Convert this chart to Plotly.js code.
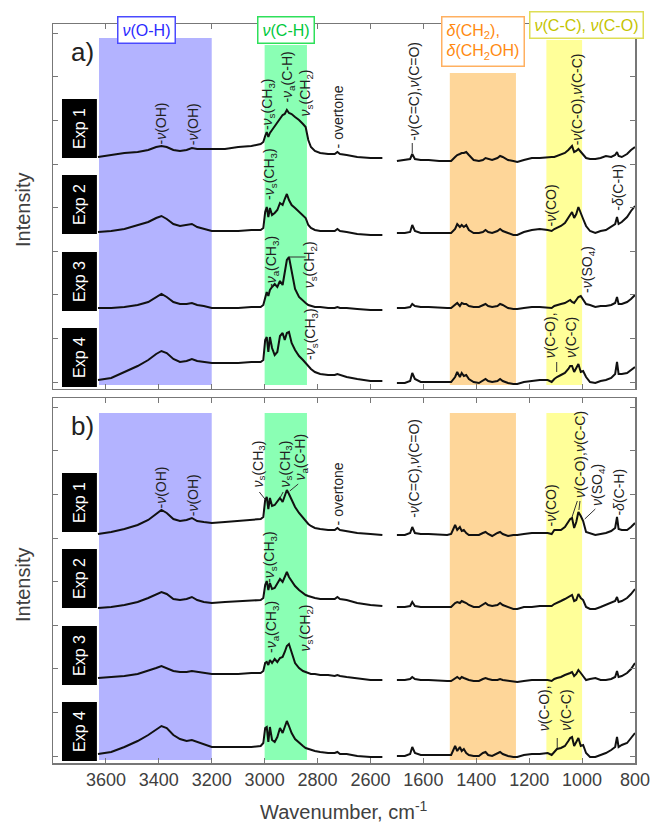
<!DOCTYPE html>
<html>
<head>
<meta charset="utf-8">
<script src="https://cdn.plot.ly/plotly-3.0.1.min.js"></script>
<style>html,body{margin:0;padding:0;background:#fff;}#chart{width:653px;height:824px;}</style>
</head>
<body>
<div id="chart"></div>
<script>
// ---------------- DATA ----------------
// Wavenumber grids (cm-1) for the two spectral windows
const wnHigh = [3630,3580,3530,3480,3440,3410,3390,3370,3345,3320,3295,3275,3255,3230,3200,3150,3100,3050,3015,3005,2998,2992,2986,2980,2972,2962,2952,2942,2932,2924,2916,2908,2898,2885,2870,2855,2845,2835,2825,2810,2790,2760,2735,2725,2715,2690,2650,2600,2555];
const wnLow = [1700,1670,1650,1642,1632,1610,1580,1540,1510,1495,1480,1472,1462,1455,1447,1438,1428,1410,1390,1375,1365,1355,1340,1320,1310,1300,1280,1260,1245,1220,1190,1160,1130,1115,1105,1095,1080,1065,1052,1045,1038,1030,1022,1014,1005,996,985,970,950,930,910,890,875,868,862,850,830,815,800];

// Panel a) stacked intensities (arbitrary units, offset included)
const a1High = [232,234,236,237,239,242,243,242,239,238,239,241,240,240,240,240,242,243,245,247,253,257,252,256,259,263,267,271,274,275,279,276,275,272,269,265,262,249,242,238,236,235,235,237,235,234,232,231,231];
const a1Low = [228,229,230,235,230,229,229,228,228,228,232,234,235,236,236,237,234,229,228,229,231,230,229,231,233,232,229,228,227,229,231,231,232,232,232,233,235,236,239,241,243,237,238,240,237,234,231,230,230,231,233,232,234,237,233,232,235,239,242];
const a2High = [157,158,160,164,167,171,173,170,165,163,164,165,162,160,158,158,158,159,159,161,177,182,172,181,174,176,179,186,184,190,195,189,184,181,177,174,171,164,161,159,158,158,158,160,158,157,155,154,154];
const a2Low = [156,156,157,164,158,156,156,156,156,156,160,165,162,164,162,164,159,156,156,157,159,157,156,158,160,158,156,154,154,157,159,160,159,158,160,161,163,166,171,175,177,171,175,182,175,170,163,158,156,158,159,162,165,172,165,167,172,178,183];
const a3High = [81,81,82,84,87,92,95,92,87,85,85,86,84,83,81,81,81,82,82,84,93,97,93,99,102,105,102,108,104,117,129,132,117,100,92,88,86,84,83,82,82,81,81,82,81,81,80,79,79];
const a3Low = [81,81,82,85,83,82,82,81,81,81,84,86,83,86,85,85,83,82,82,84,85,83,82,83,85,84,81,80,80,81,82,82,81,81,83,84,85,86,88,89,87,86,89,92,93,89,85,84,82,83,83,84,86,92,85,85,87,90,94];
const a4High = [9,11,17,23,29,35,38,36,30,27,28,30,28,27,26,26,26,27,27,29,49,52,37,52,41,34,37,53,56,49,56,57,46,39,33,29,26,23,20,17,15,14,14,15,14,12,10,8,8];
const a4Low = [6,6,8,16,10,7,7,7,7,7,12,17,12,16,13,14,10,7,6,8,10,8,7,8,10,8,6,5,5,7,8,9,9,7,10,12,14,16,20,23,23,17,21,25,17,18,12,7,6,8,9,11,15,27,15,15,16,19,22];

// Panel b) stacked intensities
const b1High = [229,231,234,238,243,249,253,250,244,242,243,245,242,241,240,241,242,243,244,246,263,266,254,265,257,258,262,265,261,268,273,269,263,256,250,245,242,239,237,235,234,233,233,235,233,232,230,229,228];
const b1Low = [228,228,230,236,230,229,229,228,228,229,238,233,236,232,233,230,228,228,228,230,231,229,227,230,231,229,227,228,228,229,230,230,230,229,233,233,233,236,241,244,245,235,241,251,247,242,231,230,228,229,230,232,235,246,234,233,233,236,240];
const b2High = [155,156,158,161,165,169,171,169,164,163,164,166,163,161,160,161,162,163,163,165,178,182,173,180,174,175,179,184,181,187,191,186,182,177,173,170,168,167,166,165,164,164,164,166,164,163,160,158,157];
const b2Low = [156,156,157,161,157,156,156,156,156,156,160,161,160,162,161,160,158,156,156,158,160,158,157,158,160,158,156,154,154,156,156,157,157,157,159,160,162,164,166,167,168,162,163,169,165,163,156,154,154,156,158,160,162,166,161,162,165,169,174];
const b3High = [85,86,87,89,92,95,97,95,92,91,91,92,91,90,89,89,89,90,90,92,100,101,98,103,100,104,101,105,106,111,117,119,111,100,95,92,91,90,89,89,88,88,87,88,87,86,85,83,83];
const b3Low = [83,83,84,86,84,83,83,82,82,82,85,86,84,86,85,84,83,82,82,84,85,84,83,83,84,83,82,81,81,82,83,83,83,82,84,85,86,88,89,90,91,87,89,93,90,87,83,84,85,83,83,84,86,92,86,87,90,94,100];
const b4High = [9,11,16,22,28,33,37,35,28,24,22,23,21,19,16,16,16,16,17,20,35,36,21,36,23,21,26,35,30,36,42,37,30,24,20,17,15,14,13,12,11,10,10,11,9,9,7,6,6];
const b4Low = [7,7,9,16,10,8,8,8,8,8,17,12,16,12,14,10,8,7,7,10,11,8,7,10,11,9,7,6,6,8,9,9,10,8,11,14,15,17,22,25,26,17,21,25,17,18,10,6,6,8,10,13,16,26,16,18,20,25,30];

const expNames = ['Exp 1','Exp 2','Exp 3','Exp 4'];
const tickWn = [3600,3400,3200,3000,2800,2600,1600,1400,1200,1000,800];
const tickLabels = tickWn.map(String);

// Band assignments (wavenumber ranges)
const bandNames = ['ν(O-H)','ν(C-H)','δ(CH2), δ(CH2OH)','ν(C-C), ν(C-O)'];
const bandFrom = [3626,3000,1500,1135];
const bandTo = [3200,2840,1250,1000];

// ---------------- BROKEN AXIS MAPPING ----------------
const BREAK_SHIFT = 800;           // low window drawn shifted so 1600 sits next to 2600
const toPlot = w => (w < 2000 ? w + BREAK_SHIFT : w);

function series(high, low){
  return {
    x: wnHigh.concat([2520], wnLow.map(toPlot)),
    y: high.concat([null], low)
  };
}

const panelA = [[a1High,a1Low],[a2High,a2Low],[a3High,a3Low],[a4High,a4Low]];
const panelB = [[b1High,b1Low],[b2High,b2Low],[b3High,b3Low],[b4High,b4Low]];

const traces = [];
panelA.forEach(p => { const s = series(p[0],p[1]);
  traces.push({x:s.x, y:s.y, xaxis:'x2', yaxis:'y2', mode:'lines', connectgaps:false, hoverinfo:'skip',
    line:{color:'#111', width:2}}); });
panelB.forEach(p => { const s = series(p[0],p[1]);
  traces.push({x:s.x, y:s.y, xaxis:'x', yaxis:'y', mode:'lines', connectgaps:false, hoverinfo:'skip',
    line:{color:'#111', width:2}}); });

// ---------------- SHAPES ----------------
const bandFill = ['#b3b3ff','#8affb4','#fed699','#ffff99'];
const bandTopA = [351,344,316,349];
const shapes = [];
for (let i=0;i<4;i++){
  shapes.push({type:'rect', layer:'below', xref:'x', yref:'y2', x0:toPlot(bandFrom[i]), x1:toPlot(bandTo[i]), y0:4, y1:bandTopA[i], fillcolor:bandFill[i], line:{width:0}});
  shapes.push({type:'rect', layer:'below', xref:'x', yref:'y', x0:toPlot(bandFrom[i]), x1:toPlot(bandTo[i]), y0:3, y1:350, fillcolor:bandFill[i], line:{width:0}});
}
const expBoxY = [[231,290],[155,214],[78,137],[2,61]];
['y','y2'].forEach(yr => expBoxY.forEach(b => shapes.push({type:'rect', layer:'above', xref:'x', yref:yr, x0:3766, x1:3634, y0:b[0], y1:b[1], fillcolor:'#000', line:{width:0}})));

function lead(yr, w0, y0, w1, y1){
  shapes.push({type:'line', xref:'x', yref:yr, x0:toPlot(w0), y0:y0, x1:toPlot(w1), y1:y1, line:{color:'#333', width:1}});
}
lead('y2',1642,236,1642,246);
lead('y2',2908,132,2845,132);
lead('y2',1096,17,1096,27);
lead('y',3020,271,2999,264);
lead('y',2930,271,2940,266);
lead('y',2873,279,2905,272);
lead('y',1018,262,1038,246);
lead('y',1008,262,1012,253);
lead('y',950,254,990,244);
lead('y',1094,15,1094,25);

// ---------------- ANNOTATIONS ----------------
const nu = '<i>ν</i>';
const ann = [];
function rot(yr, text, w, y){
  ann.push({xref:'x', yref:yr, x:toPlot(w), y:y, text:text, textangle:-90, showarrow:false,
    xanchor:'center', yanchor:'bottom', font:{size:14, color:'#222'}});
}
// panel a
rot('y2','-'+nu+'(OH)',3390,243);
rot('y2','-'+nu+'(OH)',3270,242);
rot('y2','-'+nu+'<sub>s</sub>(CH<sub>3</sub>)',2987,257);
rot('y2','-'+nu+'<sub>a</sub>(C-H)',2915,284);
rot('y2',nu+'<sub>s</sub>(CH<sub>2</sub>)',2844,271);
rot('y2','- overtone',2723,239);
rot('y2','-'+nu+'(C=C),'+nu+'(C=O)',1638,246);
rot('y2','-'+nu+'(C-O),'+nu+'(C-C)',1018,242);
rot('y2','-'+nu+'<sub>s</sub>(CH<sub>3</sub>)',2980,187);
rot('y2','-'+nu+'(CO)',1116,161);
rot('y2','-<i>δ</i>(C-H)',867,176);
rot('y2','-'+nu+'<sub>a</sub>(CH<sub>3</sub>)',2972,99);
rot('y2',nu+'<sub>s</sub>(CH<sub>2</sub>)',2829,99);
rot('y2','-'+nu+'(SO<sub>4</sub>)',980,94);
rot('y2','-'+nu+'<sub>s</sub>(CH<sub>3</sub>)',2825,27);
rot('y2',nu+'(C-O),',1120,29);
rot('y2',nu+'(C-C)',1044,29);
// panel b
rot('y','-'+nu+'(OH)',3390,253);
rot('y','-'+nu+'(OH)',3270,245);
rot('y',nu+'<sub>s</sub>(CH<sub>3</sub>)',3025,273);
rot('y',nu+'<sub>s</sub>(CH<sub>3</sub>)',2923,273);
rot('y',nu+'<sub>a</sub>(C-H)',2866,280);
rot('y','- overtone',2723,236);
rot('y','-'+nu+'(C=C),'+nu+'(C=O)',1638,243);
rot('y','-'+nu+'(CO)',1116,235);
rot('y',nu+'(C-O),'+nu+'(C-C)',1010,263);
rot('y',nu+'(SO<sub>4</sub>)',940,255);
rot('y','-<i>δ</i>(C-H)',864,245);
rot('y','-'+nu+'<sub>s</sub>(CH<sub>3</sub>)',2980,178);
rot('y','-'+nu+'<sub>a</sub>(CH<sub>3</sub>)',2972,108);
rot('y',nu+'<sub>s</sub>(CH<sub>2</sub>)',2844,110);
rot('y',nu+'(C-O),',1143,30);
rot('y',nu+'(C-C)',1064,30);

// Exp labels
const expCenterY = [260.5,184.5,107.5,31.5];
['y','y2'].forEach(yr => expNames.forEach((n,i) => ann.push({xref:'x', yref:yr, x:3700, y:expCenterY[i], text:n, textangle:-90,
  showarrow:false, xanchor:'center', yanchor:'middle', font:{size:16, color:'#fff'}})));

// panel letters
ann.push({xref:'x', yref:'y2', x:3690, y:337, text:'a)', showarrow:false, font:{size:26, color:'#222'}});
ann.push({xref:'x', yref:'y', x:3690, y:337, text:'b)', showarrow:false, font:{size:26, color:'#222'}});

// Intensity labels
ann.push({xref:'paper', yref:'y2', x:-0.0515, y:179, text:'Intensity', textangle:-90, showarrow:false, xanchor:'center', yanchor:'middle', font:{size:20, color:'#404040'}});
ann.push({xref:'paper', yref:'y', x:-0.0515, y:178, text:'Intensity', textangle:-90, showarrow:false, xanchor:'center', yanchor:'middle', font:{size:20, color:'#404040'}});

// X axis title
ann.push({xref:'paper', yref:'paper', x:0.5, y:-0.0636, text:'Wavenumber, cm<sup>-1</sup>', showarrow:false, xanchor:'center', yanchor:'middle', font:{size:20, color:'#404040'}});

// Band title boxes (panel a)
const bandTextColor = ['#2b2bff','#00c83c','#ff8a12','#c4c400'];
const bandBorder = ['#4a4aff','#2ee05a','#ffb060','#dede55'];
const bandBoxX = [3447,2919,1375,983];
const bandBoxY = [359,359,347.5,364.5];
const bandText = ['<i>ν</i>(O-H)','<i>ν</i>(C-H)','<i>δ</i>(CH<sub>2</sub>),<br><i>δ</i>(CH<sub>2</sub>OH)','<i>ν</i>(C-C), <i>ν</i>(C-O)'];
for (let i=0;i<4;i++){
  ann.push({xref:'x', yref:'y2', x:toPlot(bandBoxX[i]), y:bandBoxY[i], text:bandText[i], showarrow:false,
    xanchor:'center', yanchor:'middle', align:'left', bgcolor:'#fff', bordercolor:bandBorder[i], borderwidth:1.5, borderpad:4,
    font:{size:16, color:bandTextColor[i]}});
}

// ---------------- LAYOUT ----------------
const axisCommon = {showgrid:false, zeroline:false, showline:true, linecolor:'#777', linewidth:1.5,
  ticks:'inside', ticklen:5, tickwidth:1, tickcolor:'#777', mirror:'ticks'};

const layout = {
  width:653, height:824,
  margin:{l:53, r:18, t:24, b:61, pad:0},
  paper_bgcolor:'#fff', plot_bgcolor:'rgba(0,0,0,0)',
  showlegend:false,
  font:{family:'Arial, "Liberation Sans", sans-serif', color:'#333'},
  xaxis: Object.assign({}, axisCommon, {anchor:'y', domain:[0,1], range:[3800,1600],
    tickmode:'array', tickvals:tickWn.map(toPlot), ticktext:tickLabels,
    tickfont:{size:18, color:'#404040'}}),
  xaxis2: Object.assign({}, axisCommon, {anchor:'y2', domain:[0,1], range:[3800,1600], matches:'x',
    tickmode:'array', tickvals:tickWn.map(toPlot), showticklabels:false}),
  yaxis: Object.assign({}, axisCommon, {anchor:'x', domain:[0,0.49391], range:[0,365], tick0:7, dtick:43.6, showticklabels:false}),
  yaxis2: Object.assign({}, axisCommon, {anchor:'x2', domain:[0.50609,1], range:[0,365], tick0:7, dtick:43.6, showticklabels:false}),
  shapes: shapes,
  annotations: ann
};

Plotly.newPlot('chart', traces, layout, {staticPlot:true, displayModeBar:false});
</script>
</body>
</html>
